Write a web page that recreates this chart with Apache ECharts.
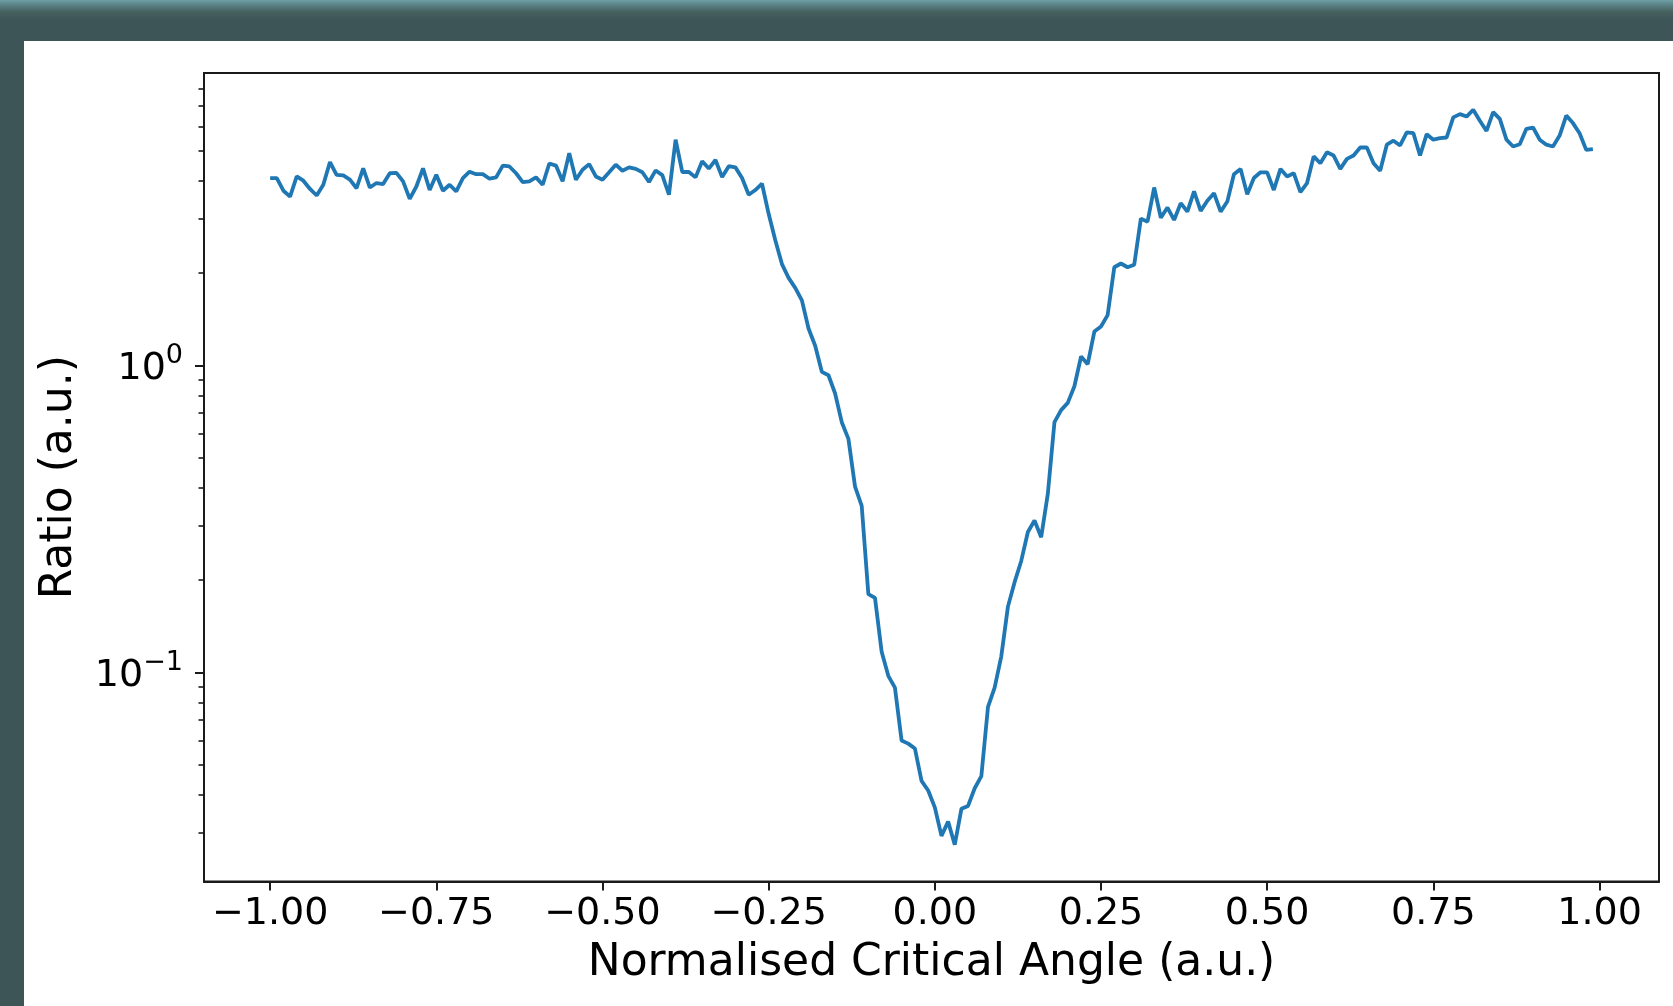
<!DOCTYPE html>
<html>
<head>
<meta charset="utf-8">
<script src="https://cdn.jsdelivr.net/npm/echarts@6/dist/echarts.min.js"></script>
<style>
  html, body { margin: 0; padding: 0; width: 1673px; height: 1006px; overflow: hidden; }
  body { background: #3e5557; position: relative; }
  #topband { position: absolute; left: 0; top: 0; width: 1673px; height: 41px;
    background: linear-gradient(to bottom, #6f9fa6 0px, #5a8185 5px, #46605f 12px, #3e5557 20px, #3e5557 41px); }
  #panel { position: absolute; left: 24px; top: 41px; right: 0; bottom: 0; background: #ffffff; }
  #chart { position: absolute; left: 0; top: 0; width: 1673px; height: 1006px; }
</style>
</head>
<body>
<div id="topband"></div>
<div id="panel"></div>
<div id="chart"></div>
<script>
// Normalised critical angle, -1.00 .. 0.99 step 0.01 (200 samples)
const angleStart = -1.0;
const angleStep = 0.01;
// Ratio (a.u.)
const ratio = [
  4.08, 4.08, 3.71, 3.55, 4.13, 4.00, 3.76, 3.58, 3.88, 4.60,
  4.18, 4.16, 4.03, 3.78, 4.39, 3.80, 3.93, 3.90, 4.23, 4.24,
  3.98, 3.49, 3.83, 4.39, 3.73, 4.18, 3.71, 3.88, 3.69, 4.08,
  4.28, 4.20, 4.20, 4.06, 4.10, 4.48, 4.45, 4.23, 3.96, 3.98,
  4.10, 3.88, 4.55, 4.48, 3.98, 4.92, 4.03, 4.34, 4.53, 4.13,
  4.03, 4.26, 4.51, 4.31, 4.42, 4.37, 4.26, 3.96, 4.32, 4.17,
  3.60, 5.44, 4.27, 4.27, 4.10, 4.63, 4.38, 4.67, 4.11, 4.46,
  4.42, 4.08, 3.60, 3.73, 3.91, 3.12, 2.56, 2.14, 1.93, 1.79,
  1.63, 1.32, 1.16, 0.954, 0.930, 0.811, 0.654, 0.577, 0.403, 0.349,
  0.180, 0.175, 0.117, 0.0976, 0.0893, 0.0601, 0.0587, 0.0566, 0.0444, 0.0413,
  0.0364, 0.0294, 0.0327, 0.0275, 0.0360, 0.0368, 0.0420, 0.0460, 0.0773, 0.0893,
  0.113, 0.164, 0.197, 0.231, 0.287, 0.313, 0.276, 0.382, 0.654, 0.716,
  0.756, 0.856, 1.07, 1.01, 1.29, 1.34, 1.46, 2.09, 2.15, 2.09,
  2.13, 3.01, 2.94, 3.80, 3.03, 3.27, 2.98, 3.38, 3.17, 3.69,
  3.19, 3.44, 3.64, 3.17, 3.42, 4.20, 4.37, 3.61, 4.08, 4.26,
  4.26, 3.73, 4.37, 4.13, 4.23, 3.67, 3.93, 4.80, 4.56, 4.95,
  4.83, 4.37, 4.71, 4.83, 5.13, 5.13, 4.56, 4.31, 5.24, 5.40,
  5.21, 5.75, 5.71, 4.83, 5.67, 5.44, 5.50, 5.53, 6.43, 6.59,
  6.47, 6.81, 6.27, 5.81, 6.69, 6.36, 5.44, 5.17, 5.26, 5.90,
  5.96, 5.44, 5.24, 5.17, 5.61, 6.52, 6.16, 5.71, 5.04, 5.07
];
const xTicks = [-1.0, -0.75, -0.5, -0.25, 0.0, 0.25, 0.5, 0.75, 1.0];
const yMajorTicks = [0.1, 1];
const yMinorTicks = [0.03, 0.04, 0.05, 0.06, 0.07, 0.08, 0.09,
                     0.2, 0.3, 0.4, 0.5, 0.6, 0.7, 0.8, 0.9,
                     2, 3, 4, 5, 6, 7, 8];
const xLabel = 'Normalised Critical Angle (a.u.)';
const yLabel = 'Ratio (a.u.)';

// log10 positions on a value axis (decades)
const lg = v => Math.log10(v);
const xs = ratio.map((_, i) => +(angleStart + i * angleStep).toFixed(2));
const seriesData = ratio.map((v, i) => [xs[i], lg(v)]);
const xMin = -1.0995, xMax = 1.0895;
const yMin = -1.6804, yMax = 0.9528;

const FONT = 'DejaVu Sans';
const INK = '#1a1a1a';
const chart = echarts.init(document.getElementById('chart'), null, { renderer: 'canvas' });
chart.setOption({
  backgroundColor: 'transparent',
  animation: false,
  grid: {
    left: 204, top: 73, right: 14, bottom: 124.5,
    show: true, borderColor: INK, borderWidth: 2, backgroundColor: 'transparent'
  },
  xAxis: {
    type: 'value', min: xMin, max: xMax,
    axisLine: { show: true, onZero: false, lineStyle: { color: INK, width: 2 } },
    axisTick: { show: true, length: 9, customValues: xTicks, lineStyle: { color: INK, width: 2 } },
    axisLabel: {
      show: true, customValues: xTicks, margin: 14,
      fontFamily: FONT, fontSize: 38, color: '#000',
      formatter: v => (v < 0 ? '\u2212' : '') + Math.abs(v).toFixed(2)
    },
    splitLine: { show: false },
    name: xLabel, nameLocation: 'middle', nameGap: 60,
    nameTextStyle: { fontFamily: FONT, fontSize: 44, color: '#000' }
  },
  yAxis: [
    {
      type: 'value', min: yMin, max: yMax,
      axisLine: { show: true, onZero: false, lineStyle: { color: INK, width: 2 } },
      axisTick: { show: true, length: 9, customValues: yMajorTicks.map(lg), lineStyle: { color: INK, width: 2 } },
      axisLabel: {
        show: true, customValues: yMajorTicks.map(lg), margin: 21,
        formatter: v => {
          const e = Math.round(v);
          return '{b|10}{s|' + (e < 0 ? '\u2212' + Math.abs(e) : e) + '}';
        },
        rich: {
          b: { fontFamily: FONT, fontSize: 38, color: '#000', lineHeight: 46, verticalAlign: 'bottom' },
          s: { fontFamily: FONT, fontSize: 27, color: '#000', lineHeight: 27, verticalAlign: 'top' }
        }
      },
      splitLine: { show: false },
      name: yLabel, nameLocation: 'middle', nameGap: 122, nameRotate: 90,
      nameTextStyle: { fontFamily: FONT, fontSize: 44, color: '#000' }
    },
    {
      type: 'value', min: yMin, max: yMax, position: 'left', offset: 0,
      axisLine: { show: false, onZero: false },
      axisTick: { show: true, length: 5.5, customValues: yMinorTicks.map(lg), lineStyle: { color: INK, width: 1.6 } },
      axisLabel: { show: false },
      splitLine: { show: false }
    }
  ],
  series: [{
    type: 'line',
    data: seriesData,
    showSymbol: false,
    symbol: 'none',
    lineStyle: { color: '#1f77b4', width: 3.8 },
    clip: true
  }]
});
</script>
</body>
</html>
